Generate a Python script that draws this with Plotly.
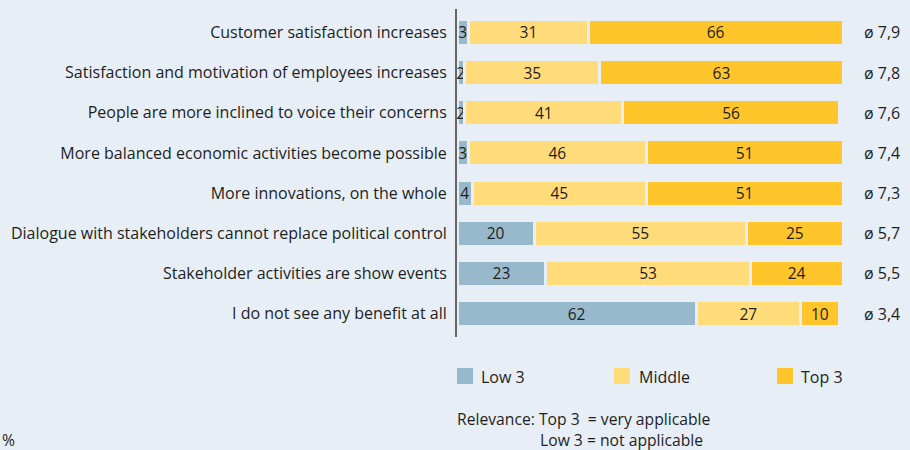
import plotly.graph_objects as go

categories = [
    "Customer satisfaction increases",
    "Satisfaction and motivation of employees increases",
    "People are more inclined to voice their concerns",
    "More balanced economic activities become possible",
    "More innovations, on the whole",
    "Dialogue with stakeholders cannot replace political control",
    "Stakeholder activities are show events",
    "I do not see any benefit at all",
]
low3 = [3, 2, 2, 3, 4, 20, 23, 62]
middle = [31, 35, 41, 46, 45, 55, 53, 27]
top3 = [66, 63, 56, 51, 51, 25, 24, 10]
averages = ["7,9", "7,8", "7,6", "7,4", "7,3", "5,7", "5,5", "3,4"]

series_names = ["Low 3", "Middle", "Top 3"]
series_values = [low3, middle, top3]
colors = ["#98B9CC", "#FFDB7A", "#FFC52B"]
BG = "#E7EEF5"
FONT = "Open Sans"
TXT = "#1E1E1E"

W, H = 910, 450
L, R, T, B = 457, 0, 9, 113
PW, PH = W - L - R, H - T - B
PX_PER_UNIT = 3.86

ypos = list(range(len(categories)))

fig = go.Figure()
for name, vals, col in zip(series_names, series_values, colors):
    fig.add_trace(go.Bar(
        y=ypos, x=vals, name=name, orientation="h",
        marker=dict(color=col, line=dict(color=BG, width=3)),
        width=0.65,
        text=[str(v) for v in vals], textposition="inside",
        insidetextanchor="middle", textangle=0, constraintext="none",
        textfont=dict(family=FONT, size=15.5, color=TXT),
        cliponaxis=False,
        hoverinfo="skip", showlegend=False,
    ))

annotations = []
for i, a in enumerate(averages):
    annotations.append(dict(
        x=110.1, y=i, xref="x", yref="y", text="ø " + a, showarrow=False,
        xanchor="center", yanchor="middle",
        font=dict(family=FONT, size=16, color=TXT),
    ))

def px_x(px):
    return (px - L) / PW

def px_y(py):
    return (H - B - py) / PH

shapes = []
legend_sq = [457, 614, 777]
legend_txt = [479, 637, 799]
for name, col, sx, tx in zip(series_names, colors, legend_sq, legend_txt):
    shapes.append(dict(type="rect", xref="paper", yref="paper",
                       x0=px_x(sx), x1=px_x(sx + 16), y0=px_y(384), y1=px_y(368),
                       fillcolor=col, line=dict(width=0)))
    annotations.append(dict(x=px_x(tx), y=px_y(377), xref="paper", yref="paper",
                            text=name, showarrow=False, xanchor="left", yanchor="middle",
                            font=dict(family=FONT, size=16, color=TXT)))

annotations.append(dict(x=px_x(455), y=px_y(419), xref="paper", yref="paper",
                        text="Relevance: Top 3  = very applicable", showarrow=False,
                        xanchor="left", yanchor="middle",
                        font=dict(family=FONT, size=15.7, color=TXT)))
annotations.append(dict(x=px_x(538), y=px_y(440), xref="paper", yref="paper",
                        text="Low 3 = not applicable", showarrow=False,
                        xanchor="left", yanchor="middle",
                        font=dict(family=FONT, size=15.7, color=TXT)))
annotations.append(dict(x=px_x(0), y=px_y(440), xref="paper", yref="paper",
                        text="%", showarrow=False, xanchor="left", yanchor="middle",
                        font=dict(family=FONT, size=15.7, color=TXT)))

fig.update_layout(
    width=W, height=H, barmode="stack",
    margin=dict(l=L, r=R, t=T, b=B, pad=0),
    paper_bgcolor=BG, plot_bgcolor=BG,
    xaxis=dict(range=[0, PW / PX_PER_UNIT], visible=False, fixedrange=True),
    yaxis=dict(range=[7.58, -0.58], tickvals=ypos, ticktext=categories,
               showline=True, linecolor="#666666", linewidth=2,
               showgrid=False, zeroline=False, ticks="", ticklabelstandoff=5,
               tickfont=dict(family=FONT, size=16, color=TXT), fixedrange=True),
    annotations=annotations, shapes=shapes,
    font=dict(family=FONT),
)

fig.write_html("out.html")
